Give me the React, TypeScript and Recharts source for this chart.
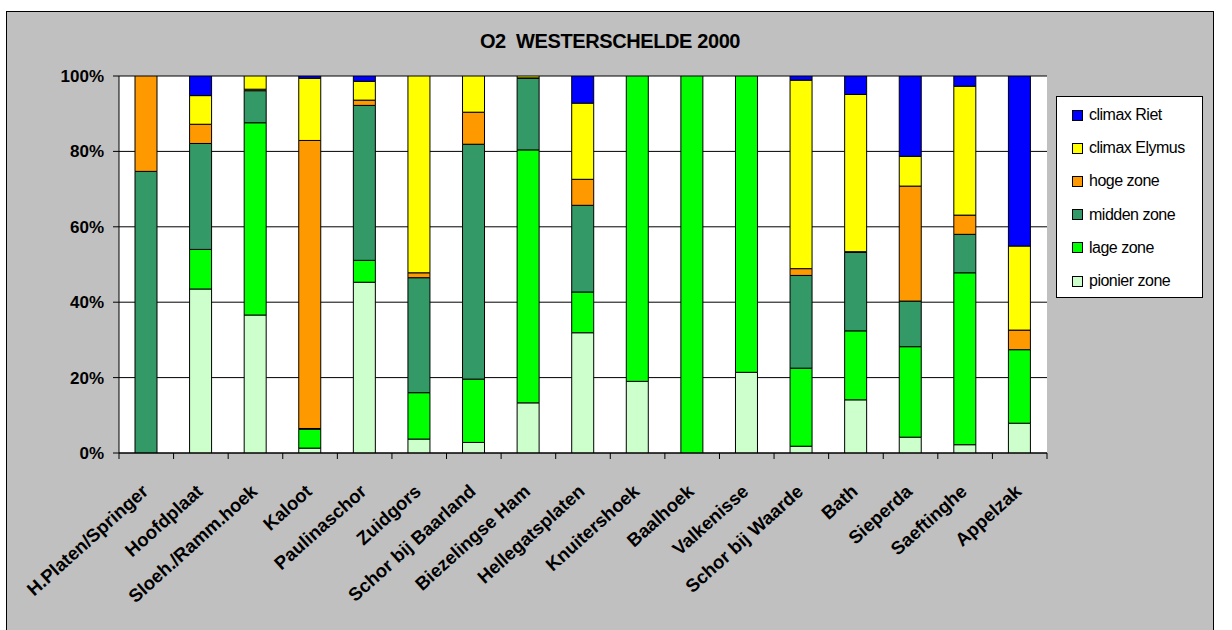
import React from "react";
import { BarChart, Bar, XAxis, YAxis, CartesianGrid } from "recharts";

const categories = [
  "H.Platen/Springer", "Hoofdplaat", "Sloeh./Ramm.hoek", "Kaloot", "Paulinaschor",
  "Zuidgors", "Schor bij Baarland", "Biezelingse Ham", "Hellegatsplaten", "Knuitershoek",
  "Baalhoek", "Valkenisse", "Schor bij Waarde", "Bath", "Sieperda", "Saeftinghe", "Appelzak",
];
const pionier = [0, 43.5, 36.6, 1.3, 45.3, 3.7, 2.8, 13.3, 31.9, 19.0, 0, 21.4, 1.8, 14.1, 4.2, 2.2, 7.9];
const lage = [0, 10.5, 51.0, 5.0, 5.8, 12.3, 16.8, 67.1, 10.8, 81.0, 100, 78.6, 20.7, 18.3, 24.0, 45.6, 19.5];
const midden = [74.7, 28.1, 8.5, 0.2, 41.1, 30.5, 62.3, 19.0, 23.0, 0, 0, 0, 24.6, 20.8, 12.1, 10.2, 0];
const hoge = [25.3, 5.1, 0.4, 76.4, 1.4, 1.3, 8.5, 0.1, 6.9, 0, 0, 0, 1.8, 0.2, 30.5, 5.1, 5.2];
const elymus = [0, 7.6, 3.5, 16.5, 5.0, 52.2, 9.6, 0.5, 20.2, 0, 0, 0, 50.0, 41.7, 7.9, 34.2, 22.3];
const riet = [0, 5.2, 0, 0.6, 1.4, 0, 0, 0, 7.2, 0, 0, 0, 1.1, 4.9, 21.3, 2.7, 45.1];
const yTicks = [0, 20, 40, 60, 80, 100];

const seriesDefs = [
  { key: "pionier", name: "pionier zone", color: "#CCFFCC", values: pionier },
  { key: "lage", name: "lage zone", color: "#00FF00", values: lage },
  { key: "midden", name: "midden zone", color: "#339966", values: midden },
  { key: "hoge", name: "hoge zone", color: "#FF9900", values: hoge },
  { key: "elymus", name: "climax Elymus", color: "#FFFF00", values: elymus },
  { key: "riet", name: "climax Riet", color: "#0000FF", values: riet },
];

const data = categories.map((c, i) => {
  const row: Record<string, string | number> = { name: c };
  seriesDefs.forEach((s) => {
    row[s.key] = s.values[i];
  });
  return row;
});

const FONT = "'Liberation Sans', Arial, Helvetica, sans-serif";

const XTick = (props: any) => {
  const { x, y, payload, index } = props;
  const off = payload && typeof payload.offset === "number" ? payload.offset : 0;
  const tx = x + 3;
  const ty = y + 40;
  return (
    <g>
      <line x1={x - off} y1={y} x2={x - off} y2={y + 6} stroke="#000" />
      {index === categories.length - 1 && (
        <line x1={x + off} y1={y} x2={x + off} y2={y + 6} stroke="#000" />
      )}
      <text
        x={tx}
        y={ty}
        textAnchor="end"
        transform={`rotate(-42, ${tx}, ${ty})`}
        fontFamily={FONT}
        fontWeight="bold"
        fontSize={18.5}
        fill="#000"
      >
        {payload.value}
      </text>
    </g>
  );
};

const legendOrder = [...seriesDefs].reverse();

export default function App() {
  return (
    <div style={{ position: "relative", width: 1232, height: 630, overflow: "hidden" }}>
      <style>{`body{margin:0;overflow:hidden;}`}</style>
      <div
        style={{
          position: "absolute",
          left: 6,
          top: 11,
          width: 1208,
          height: 630,
          border: "1px solid #000",
          background: "#C0C0C0",
          boxSizing: "border-box",
        }}
      />
      <svg
        width={1232}
        height={60}
        style={{ position: "absolute", left: 0, top: 0 }}
      >
        <text
          x={610}
          y={47.5}
          textAnchor="middle"
          fontFamily={FONT}
          fontWeight="bold"
          fontSize={20}
          letterSpacing={-0.4}
          fill="#000"
        >
          {"O2\u00a0 WESTERSCHELDE 2000"}
        </text>
      </svg>
      <div style={{ position: "absolute", left: 0, top: 0 }}>
        <BarChart
          width={1232}
          height={630}
          data={data}
          margin={{ top: 76, right: 185, left: 59, bottom: 27 }}
          barCategoryGap={0}
        >
          <CartesianGrid vertical={false} stroke="#000" fill="#FFFFFF" />
          <XAxis
            dataKey="name"
            interval={0}
            height={150}
            tickSize={0}
            tickMargin={0}
            axisLine={{ stroke: "#000" }}
            tickLine={false}
            tick={<XTick />}
          />
          <YAxis
            domain={[0, 100]}
            ticks={yTicks}
            width={60}
            tickFormatter={(v: number) => `${v}%`}
            axisLine={{ stroke: "#000" }}
            tickLine={{ stroke: "#000" }}
            tickSize={6}
            tickMargin={9}
            tick={{ fontFamily: FONT, fontWeight: "bold", fontSize: 17, fill: "#000" }}
            allowDataOverflow
          />
          <YAxis
            yAxisId="r"
            orientation="right"
            width={0}
            tick={false}
            tickLine={false}
            axisLine={{ stroke: "#808080" }}
            domain={[0, 100]}
          />
          {seriesDefs.map((s) => (
            <Bar
              key={s.key}
              dataKey={s.key}
              name={s.name}
              stackId="a"
              fill={s.color}
              stroke="#000"
              strokeWidth={1}
              barSize={22}
              isAnimationActive={false}
            />
          ))}
        </BarChart>
      </div>
      <div
        style={{
          position: "absolute",
          left: 1056,
          top: 96,
          width: 147,
          height: 202,
          boxSizing: "border-box",
          border: "1px solid #000",
          background: "#FFFFFF",
        }}
      >
        {legendOrder.map((s, i) => (
          <div
            key={s.key}
            style={{
              position: "absolute",
              left: 15,
              top: 7 + i * 33.2,
              height: 22,
              display: "flex",
              alignItems: "center",
              whiteSpace: "nowrap",
            }}
          >
            <span
              style={{
                display: "inline-block",
                width: 9,
                height: 9,
                background: s.color,
                border: "1px solid #000",
                marginRight: 6,
              }}
            />
            <span style={{ fontFamily: FONT, fontSize: 16, color: "#000", letterSpacing: -0.5 }}>
              {s.name}
            </span>
          </div>
        ))}
      </div>
    </div>
  );
}
